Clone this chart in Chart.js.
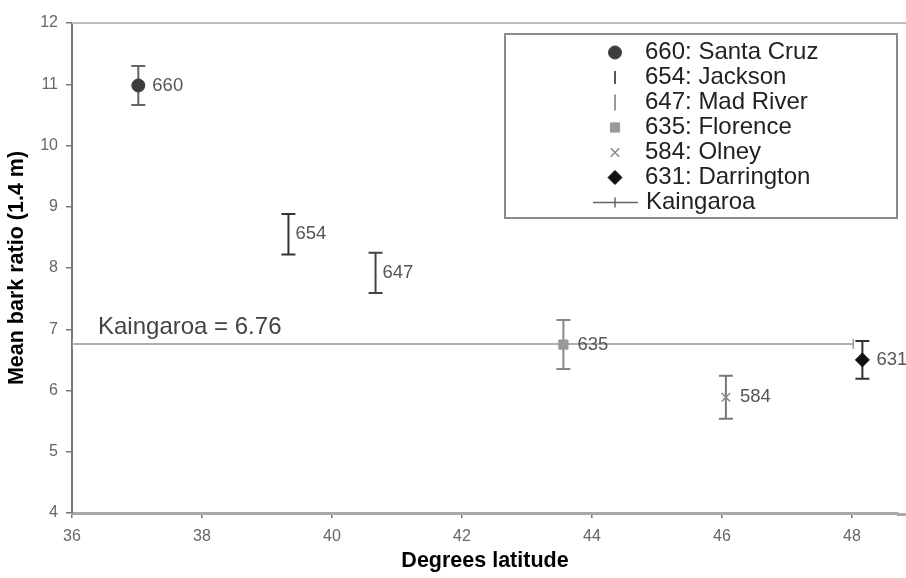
<!DOCTYPE html>
<html><head><meta charset="utf-8">
<script src="https://cdn.jsdelivr.net/npm/chart.js@4.4.1/dist/chart.umd.min.js"></script>
<style>html,body{margin:0;padding:0;background:#fff;} canvas{display:block;}</style>
</head><body>
<canvas id="c" width="906" height="578"></canvas>
<script>
// ---- data ----
const seedLots = ['660: Santa Cruz','654: Jackson','647: Mad River','635: Florence','584: Olney','631: Darrington'];
const pointTags = ['660','654','647','635','584','631'];
const latitude = [37.02, 39.33, 40.67, 43.56, 46.06, 48.16];
const meanBark = [10.98, 8.55, 7.92, 6.75, 5.89, 6.50];
const errHalf  = [0.32, 0.33, 0.33, 0.40, 0.35, 0.31];
const kaingaroaName = 'Kaingaroa';
const kaingaroaValue = 6.76;
const kaingaroaLat = [36, 48.02];
const xTicks = [36, 38, 40, 42, 44, 46, 48];
const yTicks = [4, 5, 6, 7, 8, 9, 10, 11, 12];

// ---- styles ----
const markerStyle = [
  {pointStyle:'circle', radius:6.5, bg:'#3c3c3c', border:'#3c3c3c', bw:1, bar:'#666'},
  {pointStyle:'line', radius:0, bg:'#222', border:'#222', bw:1.5, bar:'#333', legendRadius:6.5},
  {pointStyle:'line', radius:0, bg:'#777', border:'#777', bw:1.5, bar:'#444', legendRadius:8},
  {pointStyle:'rect', radius:6.5, bg:'#9a9a9a', border:'#9a9a9a', bw:1, bar:'#888'},
  {pointStyle:'crossRot', radius:6, bg:'#888', border:'#888', bw:1.5, bar:'#777'},
  {pointStyle:'rectRot', radius:7, bg:'#111', border:'#111', bw:1, bar:'#333'}
];
const FONT = "'Liberation Sans', Arial, sans-serif";

const datasets = seedLots.map((name, i) => ({
  label: name,
  data: [{x: latitude[i], y: meanBark[i]}],
  pointStyle: markerStyle[i].pointStyle,
  pointRadius: markerStyle[i].radius,
  pointBackgroundColor: markerStyle[i].bg,
  pointBorderColor: markerStyle[i].border,
  pointBorderWidth: markerStyle[i].bw,
  showLine: false
}));
datasets.push({
  label: kaingaroaName,
  data: kaingaroaLat.map(x => ({x: x, y: kaingaroaValue})),
  showLine: true,
  borderColor: '#b0b0b0',
  borderWidth: 2,
  pointStyle: 'line',
  pointRotation: 90,
  pointRadius: 5,
  pointBorderColor: '#999',
  pointBorderWidth: 1.5,
  pointBackgroundColor: '#999'
});

const decorPlugin = {
  id: 'decor',
  beforeDatasetsDraw(chart) {
    const {ctx, chartArea, scales} = chart;
    const xs = scales.x, ys = scales.y;
    ctx.save();
    // plot frame top line, running to the picture edge
    ctx.strokeStyle = '#bdbdbd';
    ctx.lineWidth = 2;
    ctx.beginPath();
    ctx.moveTo(chartArea.left, chartArea.top);
    ctx.lineTo(chart.width, chartArea.top);
    ctx.stroke();
    // x axis continues to the picture edge
    ctx.strokeStyle = '#a8a8a8';
    ctx.lineWidth = 3;
    ctx.beginPath();
    ctx.moveTo(chartArea.right - 1, chartArea.bottom + 1.5);
    ctx.lineTo(chart.width, chartArea.bottom + 1.5);
    ctx.stroke();
    // error bars
    for (let i = 0; i < latitude.length; i++) {
      const x = xs.getPixelForValue(latitude[i]);
      const yt = ys.getPixelForValue(meanBark[i] + errHalf[i]);
      const yb = ys.getPixelForValue(meanBark[i] - errHalf[i]);
      ctx.strokeStyle = markerStyle[i].bar;
      ctx.lineWidth = 2;
      ctx.beginPath();
      ctx.moveTo(x, yt); ctx.lineTo(x, yb);
      ctx.moveTo(x - 7, yt); ctx.lineTo(x + 7, yt);
      ctx.moveTo(x - 7, yb); ctx.lineTo(x + 7, yb);
      ctx.stroke();
    }
    ctx.restore();
  },
  afterDatasetsDraw(chart) {
    const {ctx, chartArea, scales} = chart;
    const xs = scales.x, ys = scales.y;
    ctx.save();
    ctx.font = '18.5px ' + FONT;
    ctx.fillStyle = '#555';
    ctx.textBaseline = 'middle';
    ctx.textAlign = 'left';
    for (let i = 0; i < latitude.length; i++) {
      const x = xs.getPixelForValue(latitude[i]);
      const y = ys.getPixelForValue(meanBark[i]);
      const off = markerStyle[i].radius > 0 ? 14 : 7;
      ctx.fillText(pointTags[i], x + off, y);
    }
    ctx.font = '24px ' + FONT;
    ctx.fillStyle = '#444';
    ctx.textBaseline = 'middle';
    ctx.fillText(kaingaroaName + ' = ' + kaingaroaValue.toFixed(2), chartArea.left + 26, ys.getPixelForValue(kaingaroaValue) - 17);

    // legend
    const L = 505, T = 34, R = 897, B = 218;
    ctx.fillStyle = '#fff';
    ctx.fillRect(L, T, R - L, B - T);
    ctx.strokeStyle = '#8a8a8a';
    ctx.lineWidth = 2;
    ctx.strokeRect(L, T, R - L, B - T);
    const rowY0 = 52.5, rowH = 25;
    const mx = 615, tx = 645;
    ctx.font = '24px ' + FONT;
    ctx.textBaseline = 'middle';
    ctx.textAlign = 'left';
    for (let i = 0; i < seedLots.length; i++) {
      const y = rowY0 + i * rowH;
      const s = markerStyle[i];
      ctx.fillStyle = s.bg;
      ctx.strokeStyle = s.border;
      ctx.lineWidth = s.bw;
      Chart.helpers.drawPoint(ctx, {
        pointStyle: s.pointStyle,
        radius: s.radius > 0 ? s.radius : s.legendRadius,
        rotation: s.pointStyle === 'line' ? 90 : 0,
        borderWidth: s.bw
      }, mx, y);
      ctx.fillStyle = '#222';
      ctx.fillText(seedLots[i], tx, y);
    }
    const ky = rowY0 + seedLots.length * rowH;
    ctx.strokeStyle = '#666';
    ctx.lineWidth = 1.5;
    ctx.beginPath();
    ctx.moveTo(593, ky); ctx.lineTo(638, ky);
    ctx.moveTo(mx, ky - 5); ctx.lineTo(mx, ky + 5);
    ctx.stroke();
    ctx.fillStyle = '#222';
    ctx.fillText(kaingaroaName, tx + 1, ky);
    ctx.restore();
  }
};

new Chart(document.getElementById('c'), {
  type: 'scatter',
  data: {datasets},
  options: {
    responsive: false,
    animation: false,
    devicePixelRatio: 1,
    layout: {padding: 0},
    plugins: {legend: {display: false}, tooltip: {enabled: false}},
    scales: {
      x: {
        type: 'linear',
        min: 36, max: 48.708,
        afterBuildTicks: s => { s.ticks = xTicks.map(v => ({value: v})); },
        afterFit: s => { s.height = 65; s.paddingLeft = 0; s.paddingRight = 0; },
        border: {display: true, color: '#a8a8a8', width: 3},
        grid: {display: true, drawOnChartArea: false, drawTicks: true, tickLength: 5, color: '#777', lineWidth: 1.5},
        ticks: {color: '#666', font: {family: FONT, size: 16}, padding: 9, maxRotation: 0},
        title: {display: true, text: 'Degrees latitude', color: '#000', font: {family: FONT, size: 21.5, weight: 'bold'}, padding: {top: 0, bottom: 4}}
      },
      y: {
        type: 'linear',
        min: 4, max: 12,
        afterBuildTicks: s => { s.ticks = yTicks.map(v => ({value: v})); },
        afterFit: s => { s.width = 72; s.paddingTop = 23; s.paddingBottom = 0; s.paddingLeft = 0; s.paddingRight = 0; },
        border: {display: true, color: '#777', width: 2},
        grid: {display: true, drawOnChartArea: false, drawTicks: true, tickLength: 6, color: '#777', lineWidth: 1.5},
        ticks: {color: '#666', font: {family: FONT, size: 16}, padding: 8},
        title: {display: true, text: 'Mean bark ratio (1.4 m)', color: '#000', font: {family: FONT, size: 21.5, weight: 'bold'}, padding: {top: 4, bottom: 0}}
      }
    }
  },
  plugins: [decorPlugin]
});
</script>
</body></html>
